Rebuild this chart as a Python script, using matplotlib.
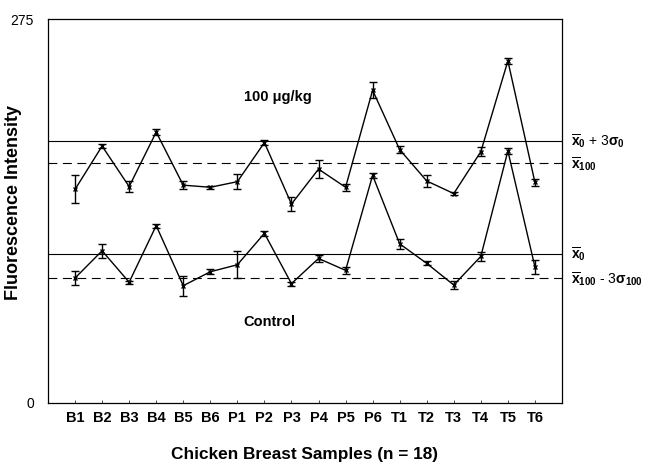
import matplotlib

matplotlib.use("Agg")
import matplotlib.pyplot as plt  # noqa: E402
import numpy as np  # noqa: E402

samples = ["B1", "B2", "B3", "B4", "B5", "B6", "P1", "P2", "P3",
           "P4", "P5", "P6", "T1", "T2", "T3", "T4", "T5", "T6"]

# 100 ug/kg fortified
spiked = [153, 184, 155, 194, 156, 154.5, 158.5, 186.5, 142.5,
          167.5, 154.5, 224, 181.5, 159, 150, 180, 245, 158]
spiked_err = [10, 1.5, 4, 2, 2.7, 1, 5.3, 1.5, 5.3,
              6.6, 2.6, 5.7, 2.4, 4.5, 1, 3.3, 2.4, 2.6]

# control
control = [89.5, 109, 86.5, 127, 84, 94, 99, 121.5, 85.5,
           103.5, 95, 163, 114, 100, 84.5, 105, 180.5, 97.5]
control_err = [4.7, 5, 1, 1.5, 7.2, 1.7, 9.5, 2, 1.5,
               2.7, 2.7, 1.7, 3.8, 1.5, 3.2, 3.3, 2, 5]

# reference lines
x0_3s0 = 187.5
x100 = 172
x0 = 107
x100_3s100 = 89.5

plt.rcParams["font.family"] = ["Liberation Sans", "DejaVu Sans"]
plt.rcParams["mathtext.fontset"] = "custom"
plt.rcParams["mathtext.rm"] = "Liberation Sans:bold"
plt.rcParams["mathtext.bf"] = "Liberation Sans:bold"
plt.rcParams["mathtext.it"] = "Liberation Sans:bold"

fig = plt.figure(figsize=(6.45, 4.66), dpi=100)
ax = fig.add_axes([0.0744, 0.1352, 0.7969, 0.824])

xs = np.arange(1, len(samples) + 1)

ax.axhline(x0_3s0, color="black", lw=0.8)
ax.axhline(x100, color="black", lw=0.8, ls=(0, (8, 5)))
ax.axhline(x0, color="black", lw=0.8)
ax.axhline(x100_3s100, color="black", lw=0.8, ls=(0, (8, 5)))

for ys, es in [(spiked, spiked_err), (control, control_err)]:
    ax.errorbar(xs, ys, yerr=es, color="black", lw=1.0, elinewidth=1.0,
                capsize=3, capthick=1.0, marker="x", ms=3, mew=1.0)

ax.set_xlim(0, 19)
ax.set_ylim(0, 275)
ax.set_yticks([0, 275])
ax.set_yticklabels(["0", "275"], fontsize=10)
ax.tick_params(axis="y", length=0, pad=10)
ax.set_xticks(xs)
ax.set_xticklabels(samples, fontsize=10.5, fontweight="bold")
ax.tick_params(axis="x", direction="in", length=2, width=0.5, pad=6)
for s in ax.spines.values():
    s.set_linewidth(0.9)

ax.set_ylabel("Fluorescence Intensity", fontsize=13, fontweight="bold")
ax.yaxis.set_label_coords(-0.051, 0.522)
ax.set_xlabel("Chicken Breast Samples (n = 18)", fontsize=12.4,
              fontweight="bold")
ax.xaxis.set_label_coords(0.5, -0.115)

ax.text(8.5, 219, "100 \u03bcg/kg", ha="center", va="center",
        fontsize=10.5, fontweight="bold")
ax.text(8.2, 58, "Control", ha="center", va="center",
        fontsize=10.5, fontweight="bold")

tx = 19.35
lbl = dict(ha="left", va="center", fontsize=10, clip_on=False)
ax.text(tx, x0_3s0, r"$\overline{\mathrm{x}}_0$ + 3$\sigma_0$", **lbl)
ax.text(tx, x100 - 1, r"$\overline{\mathrm{x}}_{100}$", **lbl)
ax.text(tx, x0, r"$\overline{\mathrm{x}}_0$", **lbl)
ax.text(tx, x100_3s100 - 1, r"$\overline{\mathrm{x}}_{100}$ - 3$\sigma_{100}$", **lbl)

fig.savefig("out.png", dpi=100)
